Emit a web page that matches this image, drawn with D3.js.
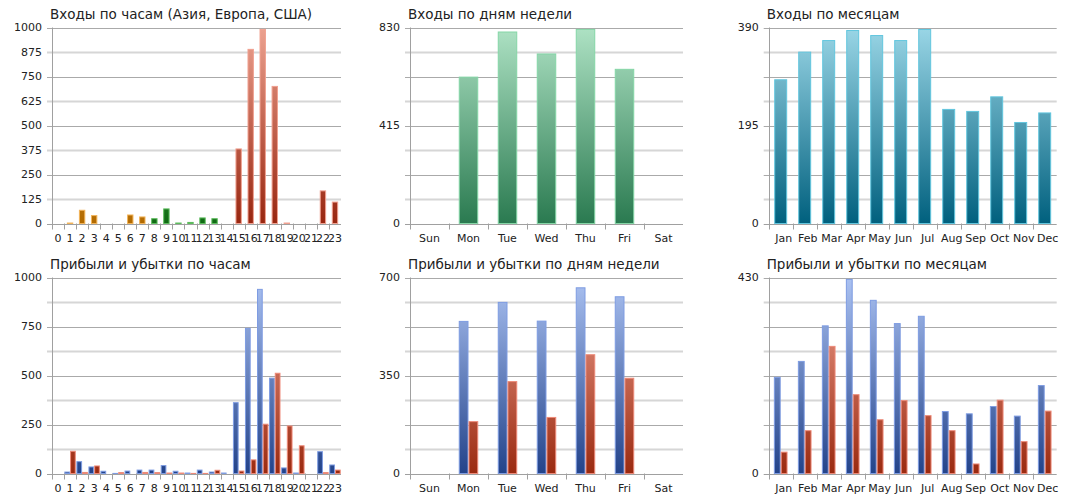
<!DOCTYPE html>
<html><head><meta charset="utf-8">
<script src="https://cdn.jsdelivr.net/npm/d3@7"></script>
<style>
html,body{margin:0;padding:0;background:#fff;}
svg{display:block;font-family:"DejaVu Sans",Verdana,sans-serif;}
</style></head>
<body><svg id="c" width="1075" height="500"></svg>
<script>
// ---- data ----
const hours = ["0","1","2","3","4","5","6","7","8","9","10","11","12","13","14","15","16","17","18","19","20","21","22","23"];
const hourRegion = ["asia","asia","asia","asia","asia","asia","asia","asia","eu","eu","eu","eu","eu","eu","usa","usa","usa","usa","usa","usa","usa","usa","usa","usa"];
const hourEntries = [0,5,70,43,0,0,46,36,27,77,5,8,31,27,0,383,891,993,702,5,0,0,169,112];
const hourProfit = [0,10,63,36,14,3,15,20,20,43,14,5,20,10,5,364,743,942,489,31,5,0,114,46];
const hourLoss   = [0,116,8,41,0,7,2,8,7,5,5,3,3,19,2,15,72,254,514,245,144,0,7,20];
const days = ["Sun","Mon","Tue","Wed","Thu","Fri","Sat"];
const dayEntries = [0,622,813,720,824,655,0];
const dayProfit  = [0,545,613,546,665,633,0];
const dayLoss    = [0,187,330,202,426,342,0];
const months = ["Jan","Feb","Mar","Apr","May","Jun","Jul","Aug","Sep","Oct","Nov","Dec"];
const monthEntries = [287,342,365,385,375,365,387,228,224,253,202,221];
const monthProfit  = [212,247,325,427,381,330,346,137,132,148,127,194];
const monthLoss    = [48,95,280,174,119,161,128,95,22,162,71,138];
const hourEntryTicks  = [0,125,250,375,500,625,750,875,1000];
const hourProfitTicks = [0,250,500,750,1000];
const dayEntryTicks   = [0,415,830];
const monthEntryTicks = [0,195,390];
const dayProfitTicks  = [0,350,700];
const monthProfitTicks= [0,430];
const titles = ["Входы по часам (Азия, Европа, США)","Входы по дням недели","Входы по месяцам",
  "Прибыли и убытки по часам","Прибыли и убытки по дням недели","Прибыли и убытки по месяцам"];

// ---- styles ----
const palette = {
  asia:   {top:"#f6c27a", bot:"#b26a00", stroke:"#f2b45a"},
  eu:     {top:"#8fd88f", bot:"#0f6a12", stroke:"#5cbc5c"},
  usa:    {top:"#eca290", bot:"#982610", stroke:"#f0a090"},
  day:    {top:"#aee2c4", bot:"#2a7a50", stroke:"#84d6a6"},
  month:  {top:"#9ad6e6", bot:"#00607e", stroke:"#62c6de"},
  profit: {top:"#abc2f2", bot:"#23438a", stroke:"#7e9ce2"},
  loss:   {top:"#f2a494", bot:"#9a2a10", stroke:"#ee8a78"}
};

const svg = d3.select("#c");
const defs = svg.append("defs");
let gid = 0;
function grad(p, y0, y1){
  const id = "g" + (gid++);
  const g = defs.append("linearGradient").attr("id", id)
    .attr("gradientUnits","userSpaceOnUse").attr("x1",0).attr("x2",0).attr("y1",y0).attr("y2",y1);
  g.append("stop").attr("offset","0%").attr("stop-color",p.top);
  g.append("stop").attr("offset","100%").attr("stop-color",p.bot);
  return "url(#"+id+")";
}

function panel(o){
  const {x0,x1,top,bot,cats,series,ticks,title,pad,labelDx} = o;
  const g = svg.append("g");
  const max = ticks[ticks.length-1];
  const y = d3.scaleLinear().domain([0,max]).range([bot,top]);
  const x = d3.scaleBand().domain(cats).range([x0,x1]).paddingInner(0).paddingOuter(0);
  // grid (8 divisions)
  const grid = d3.range(1,9).map(i => max*i/8);
  g.selectAll(".grid").data(grid).enter().append("line")
    .attr("x1",x0-5).attr("x2",x1)
    .attr("y1",d=>Math.round(y(d))+0.5).attr("y2",d=>Math.round(y(d))+0.5)
    .attr("stroke",(d,i)=> i%2===0 ? "#d6d6d6" : "#aaaaaa")
    .attr("stroke-width",(d,i)=> i%2===0 ? 2 : 1);
  // bars
  const inner = d3.scaleBand().domain(d3.range(series.length)).range([0,x.bandwidth()*(1-pad)]).padding(0);
  const off = x.bandwidth()*pad/2;
  series.forEach((s,si)=>{
    g.selectAll(".b"+si).data(s.values).enter().append("rect")
      .attr("x",(d,i)=> x(cats[i]) + off + inner(si) + 0.5)
      .attr("width", Math.max(inner.bandwidth()-1,1))
      .attr("y",d=> y(d) + 0.5)
      .attr("height",d=> Math.max(bot - y(d) - 0.5, 0))
      .attr("fill",(d,i)=> s.fill(i))
      .attr("stroke",(d,i)=> s.stroke(i)).attr("stroke-width",1)
      .style("display",d=> d>0 ? null : "none");
  });
  // axes lines
  g.append("line").attr("x1",Math.round(x0)+0.5).attr("x2",Math.round(x0)+0.5).attr("y1",top).attr("y2",bot+6)
    .attr("stroke","#a0a0a0");
  g.append("line").attr("x1",x0-5).attr("x2",x1).attr("y1",Math.round(bot)+0.5).attr("y2",Math.round(bot)+0.5)
    .attr("stroke","#a0a0a0");
  g.selectAll(".xt").data(cats.slice(1)).enter().append("line")
    .attr("x1",d=>Math.round(x(d))+0.5).attr("x2",d=>Math.round(x(d))+0.5)
    .attr("y1",bot).attr("y2",bot+6).attr("stroke","#a0a0a0");
  // y labels
  g.selectAll(".yl").data(ticks).enter().append("text")
    .attr("x",x0-10).attr("y",d=>y(d)).attr("dy","0.36em")
    .attr("text-anchor","end").attr("font-size",11).attr("fill","#222").text(d=>d);
  // x labels
  g.selectAll(".xl").data(cats).enter().append("text")
    .attr("x",d=>x(d)+x.bandwidth()/2+(labelDx||0)).attr("y",bot+18)
    .attr("text-anchor","middle").attr("font-size",11).attr("fill","#222").text(d=>d);
  // title
  g.append("text").attr("x",x0-2).attr("y",top-9).attr("font-size",13.5).attr("fill","#222").text(title);
}

const rows = [{top:27.5,bot:223.5},{top:277.5,bot:473.5}];
const cols = [{x0:52,x1:341},{x0:410,x1:683},{x0:768.7,x1:1056.7}];

function gradFns(rk){
  const r = rows[rk];
  const m = {};
  Object.keys(palette).forEach(k=> m[k] = grad(palette[k], r.top, r.bot));
  return m;
}
const G0 = gradFns(0), G1 = gradFns(1);

panel({...cols[0],...rows[0],cats:hours,ticks:hourEntryTicks,title:titles[0],pad:0.47,
  series:[{values:hourEntries, fill:i=>G0[hourRegion[i]], stroke:i=>palette[hourRegion[i]].stroke}]});
panel({...cols[1],...rows[0],cats:days,ticks:dayEntryTicks,title:titles[1],pad:0.5,
  series:[{values:dayEntries, fill:()=>G0.day, stroke:()=>palette.day.stroke}]});
panel({...cols[2],...rows[0],cats:months,ticks:monthEntryTicks,title:titles[2],pad:0.46,labelDx:3,
  series:[{values:monthEntries, fill:()=>G0.month, stroke:()=>palette.month.stroke}]});
panel({...cols[0],...rows[1],cats:hours,ticks:hourProfitTicks,title:titles[3],pad:0.05,
  series:[{values:hourProfit, fill:()=>G1.profit, stroke:()=>palette.profit.stroke},
          {values:hourLoss, fill:()=>G1.loss, stroke:()=>palette.loss.stroke}]});
panel({...cols[1],...rows[1],cats:days,ticks:dayProfitTicks,title:titles[4],pad:0.5,
  series:[{values:dayProfit, fill:()=>G1.profit, stroke:()=>palette.profit.stroke},
          {values:dayLoss, fill:()=>G1.loss, stroke:()=>palette.loss.stroke}]});
panel({...cols[2],...rows[1],cats:months,ticks:monthProfitTicks,title:titles[5],pad:0.43,labelDx:3,
  series:[{values:monthProfit, fill:()=>G1.profit, stroke:()=>palette.profit.stroke},
          {values:monthLoss, fill:()=>G1.loss, stroke:()=>palette.loss.stroke}]});
</script></body></html>
